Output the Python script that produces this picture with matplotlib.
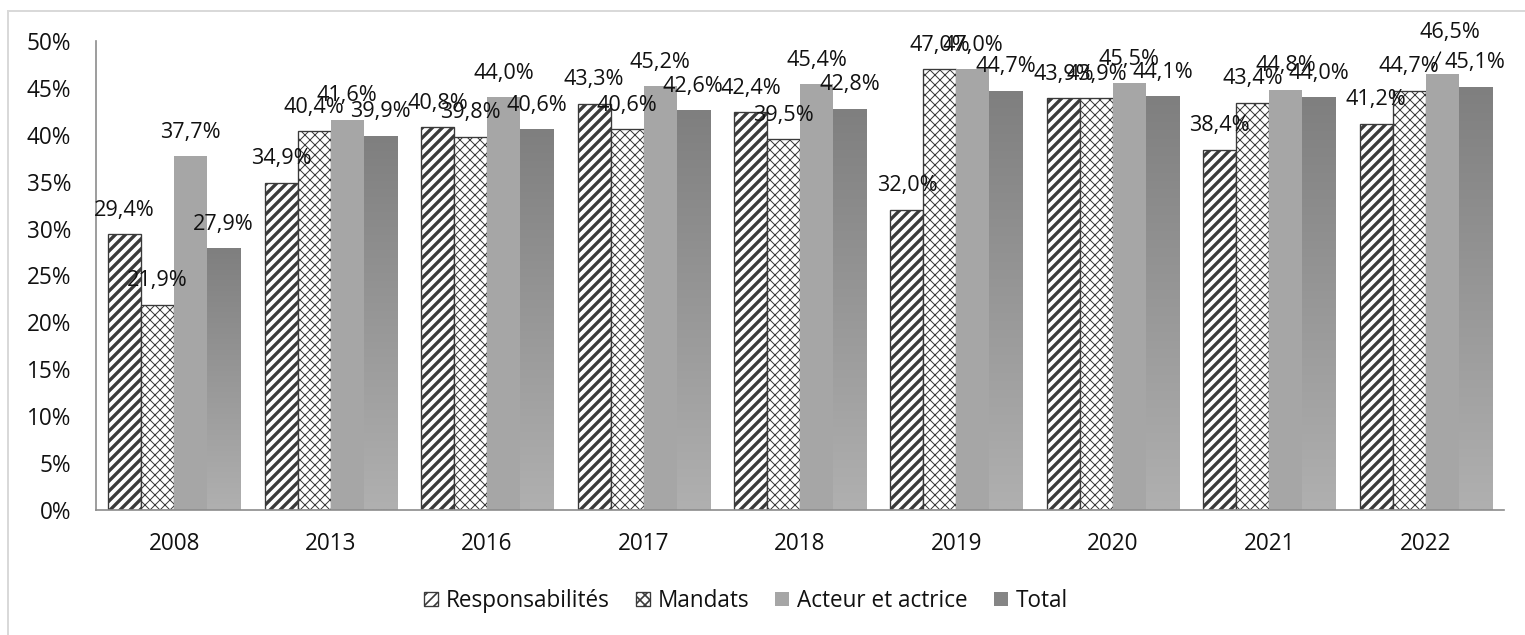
import matplotlib
matplotlib.use("Agg")
import matplotlib.pyplot as plt
import numpy as np
from matplotlib.colors import LinearSegmentedColormap
from matplotlib.lines import Line2D

years = ["2008", "2013", "2016", "2017", "2018", "2019", "2020", "2021", "2022"]
series_names = ["Responsabilités", "Mandats", "Acteur et actrice", "Total"]
responsabilites = [29.4, 34.9, 40.8, 43.3, 42.4, 32.0, 43.9, 38.4, 41.2]
mandats = [21.9, 40.4, 39.8, 40.6, 39.5, 47.0, 43.9, 43.4, 44.7]
acteur = [37.7, 41.6, 44.0, 45.2, 45.4, 47.0, 45.5, 44.8, 46.5]
total = [27.9, 39.9, 40.6, 42.6, 42.8, 44.7, 44.1, 44.0, 45.1]
y_ticks = [0, 5, 10, 15, 20, 25, 30, 35, 40, 45, 50]

plt.rcParams['font.family'] = ['Open Sans', 'DejaVu Sans']
plt.rcParams['hatch.color'] = 'black'

DPI = 120
fig = plt.figure(figsize=(1525 / DPI, 635 / DPI), dpi=DPI)
ax = fig.add_axes([96 / 1525, 1 - 510 / 635, (1504 - 96) / 1525, (510 - 41) / 635])

x = np.arange(len(years))
w = 0.211
offsets = [-1.5 * w, -0.5 * w, 0.5 * w, 1.5 * w]
data = [responsabilites, mandats, acteur, total]
txt_color = '#111111'

# Responsabilités (thick diagonal stripes)
with plt.rc_context({'hatch.linewidth': 2.0}):
    b_resp = ax.bar(x + offsets[0], responsabilites, w, facecolor='white',
                    edgecolor='#3a3a3a', linewidth=0.8, hatch='////',
                    label=series_names[0], zorder=2)
for p in b_resp:
    if hasattr(p, 'set_hatch_linewidth'):
        p.set_hatch_linewidth(2.0)

# Mandats (thin crosshatch)
with plt.rc_context({'hatch.linewidth': 0.6}):
    b_mand = ax.bar(x + offsets[1], mandats, w, facecolor='white',
                    edgecolor='#3a3a3a', linewidth=0.8, hatch='xxxx',
                    label=series_names[1], zorder=2)
for p in b_mand:
    if hasattr(p, 'set_hatch_linewidth'):
        p.set_hatch_linewidth(0.6)

b_act = ax.bar(x + offsets[2], acteur, w, facecolor='#a6a6a6', edgecolor='none',
               label=series_names[2], zorder=2)
b_tot = ax.bar(x + offsets[3], total, w, facecolor='#858585', edgecolor='none',
               label=series_names[3], zorder=2)

# gradient fill for Total bars (dark at top, lighter at bottom)
cmap_tot = LinearSegmentedColormap.from_list('tot', ['#7f7f7f', '#b0b0b0'])
grad = np.linspace(0, 1, 256).reshape(-1, 1)
for p in b_tot:
    x0, y0, ww, hh = p.get_x(), p.get_y(), p.get_width(), p.get_height()
    im = ax.imshow(grad, extent=[x0, x0 + ww, y0, y0 + hh], origin='upper',
                   aspect='auto', cmap=cmap_tot, zorder=2.1, interpolation='bilinear')
    im.set_clip_path(p)

ax.set_xlim(-0.5, len(years) - 0.5)
ax.set_ylim(0, 50)

# data labels
for si, (vals, bars) in enumerate(zip(data, [b_resp, b_mand, b_act, b_tot])):
    for i, (v, p) in enumerate(zip(vals, bars)):
        cx = p.get_x() + p.get_width() / 2
        lab = f"{v:.1f}%".replace('.', ',')
        if si == 2 and i == len(years) - 1:
            ax.annotate(lab, xy=(cx - 0.064, v + 0.5), xytext=(10.8, 22.2),
                        textcoords='offset points', ha='center', va='center',
                        fontsize=13, color=txt_color, zorder=5,
                        arrowprops=dict(arrowstyle='-', color='black', lw=0.8,
                                        shrinkA=4, shrinkB=0))
        else:
            ax.annotate(lab, xy=(cx, v), xytext=(0, 14.4),
                        textcoords='offset points', ha='center', va='center',
                        fontsize=13, color=txt_color, zorder=5)

ax.set_xticks(x)
ax.set_xticklabels(years)
ax.set_yticks(y_ticks)
ax.set_yticklabels([f"{t}%" for t in y_ticks])
ax.tick_params(axis='both', length=0, labelsize=13.5, labelcolor=txt_color)
ax.tick_params(axis='y', pad=15)
ax.tick_params(axis='x', pad=13)

for s in ['top', 'right']:
    ax.spines[s].set_visible(False)
for s in ['left', 'bottom']:
    ax.spines[s].set_color('#8c8c8c')
    ax.spines[s].set_linewidth(1.0)

fig.legend(handles=[b_resp, b_mand, b_act, b_tot], labels=series_names,
           loc='center', bbox_to_anchor=(746 / 1525, 1 - 601 / 635), ncol=4,
           frameon=False, fontsize=13.5, handlelength=0.62, handleheight=0.62,
           handletextpad=0.35, columnspacing=1.15, labelcolor=txt_color)

# outer chart frame (only left and top visible)
fx, fy = 7.5 / 1525, 1 - 10.5 / 635
fig.add_artist(Line2D([fx, fx], [0, fy], transform=fig.transFigure,
                      color='#d9d9d9', lw=1.2))
fig.add_artist(Line2D([fx, 1], [fy, fy], transform=fig.transFigure,
                      color='#d9d9d9', lw=1.2))

fig.savefig('out.png', dpi=DPI)
